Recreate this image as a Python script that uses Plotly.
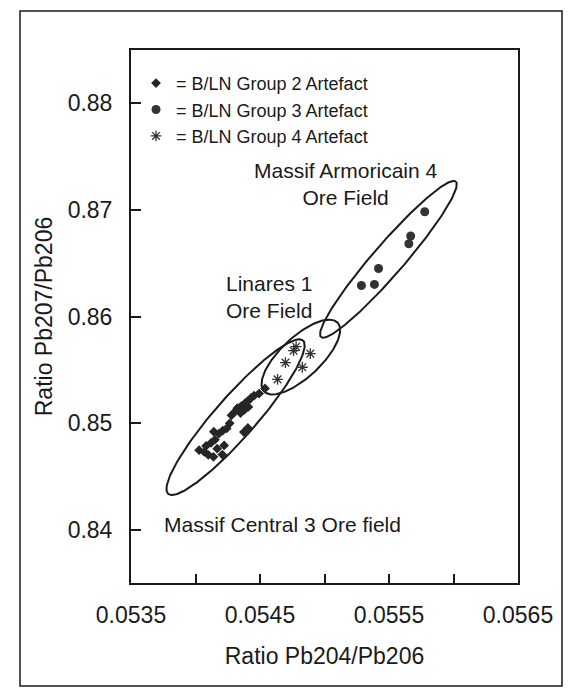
import numpy as np
import plotly.graph_objects as go

# ---------------- data ----------------
x_range = [0.0535, 0.0565]
y_range = [0.835, 0.885]
x_label_vals = [0.0535, 0.0545, 0.0555, 0.0565]
x_label_text = ["0.0535", "0.0545", "0.0555", "0.0565"]
x_minor_vals = [0.0540, 0.0550, 0.0560]
y_tick_vals = [0.84, 0.85, 0.86, 0.87, 0.88]
y_tick_text = ["0.84", "0.85", "0.86", "0.87", "0.88"]

# B/LN Group 2 artefacts (diamonds)
g2_x = [0.054028, 0.054068, 0.054099, 0.054139, 0.054082, 0.054121, 0.054151,
        0.054168, 0.054208, 0.054222, 0.054181, 0.054212, 0.054242, 0.054265,
        0.054279, 0.054302, 0.054324, 0.054355, 0.054386, 0.054409, 0.054431,
        0.054454, 0.054379, 0.054410, 0.054349, 0.054375, 0.054406, 0.054539,
        0.054493, 0.054142]
g2_y = [0.84746, 0.84729, 0.84702, 0.84684, 0.84786, 0.84815, 0.84844,
        0.84760, 0.84705, 0.84790, 0.84901, 0.84930, 0.84950, 0.84998,
        0.85073, 0.85102, 0.85140, 0.85160, 0.85189, 0.85209, 0.85237,
        0.85257, 0.85123, 0.85152, 0.85094, 0.84916, 0.84955, 0.85325,
        0.85277, 0.84919]

# B/LN Group 3 artefacts (circles)
g3_x = [0.055777, 0.055668, 0.055654, 0.055419, 0.055286, 0.055387]
g3_y = [0.86983, 0.86755, 0.86682, 0.86450, 0.86291, 0.86301]

# B/LN Group 4 artefacts (asterisks)
g4_x = [0.054760, 0.054890, 0.054697, 0.054828, 0.054636, 0.054780]
g4_y = [0.85679, 0.85652, 0.85567, 0.85524, 0.85410, 0.85717]

legend_names = ["= B/LN Group 2 Artefact", "= B/LN Group 3 Artefact",
                "= B/LN Group 4 Artefact"]

# ore-field ellipses: two tips of the long axis and minor/major ratio
field_names = ["Massif Central 3", "Linares 1", "Massif Armoricain 4"]
field_tip1_x = [0.053788, 0.054531, 0.054973]
field_tip1_y = [0.84336, 0.85297, 0.85807]
field_tip2_x = [0.054833, 0.055102, 0.056018]
field_tip2_y = [0.85775, 0.85942, 0.87266]
field_ratio = [0.20, 0.40, 0.15]

field_labels = ["Massif Central 3 Ore field", "Linares 1<br>Ore Field",
                "Massif Armoricain 4<br>Ore Field"]
field_label_x = [0.054672, 0.054569, 0.055167]
field_label_y = [0.84050, 0.86186, 0.87242]

# ---------------- layout geometry ----------------
W, H = 574, 692
ML, MR, MT, MB = 131, 56, 50, 109
PW, PH = W - ML - MR, H - MT - MB
FONT = "Arial, Liberation Sans, sans-serif"
INK = "#1a1a1a"

fig = go.Figure()

# ellipses, computed in screen-isotropic space
sx = PW / (x_range[1] - x_range[0])
sy = PH / (y_range[1] - y_range[0])
t = np.linspace(0, 2 * np.pi, 241)
for i in range(len(field_names)):
    ax, ay = field_tip1_x[i] * sx, field_tip1_y[i] * sy
    bx, by = field_tip2_x[i] * sx, field_tip2_y[i] * sy
    cx, cy = (ax + bx) / 2, (ay + by) / 2
    mx, my = (bx - ax) / 2, (by - ay) / 2
    nx, ny = -my * field_ratio[i], mx * field_ratio[i]
    ex = (cx + mx * np.cos(t) + nx * np.sin(t)) / sx
    ey = (cy + my * np.cos(t) + ny * np.sin(t)) / sy
    fig.add_trace(go.Scatter(x=ex, y=ey, mode="lines", name=field_names[i],
                             line=dict(color=INK, width=2), showlegend=False,
                             hoverinfo="skip"))

fig.add_trace(go.Scatter(x=g2_x, y=g2_y, mode="markers", name=legend_names[0],
                         marker=dict(symbol="diamond", size=7.5, color="#262626",
                                     line=dict(width=0))))
fig.add_trace(go.Scatter(x=g3_x, y=g3_y, mode="markers", name=legend_names[1],
                         marker=dict(symbol="circle", size=9, color="#333333",
                                     line=dict(width=0))))
fig.add_trace(go.Scatter(x=g4_x, y=g4_y, mode="markers", name=legend_names[2],
                         marker=dict(symbol="asterisk-open", size=9,
                                     color="#333333",
                                     line=dict(width=1.3, color="#333333"))))

for i in range(len(field_labels)):
    fig.add_annotation(x=field_label_x[i], y=field_label_y[i], xref="x", yref="y",
                       text=field_labels[i], showarrow=False,
                       font=dict(family=FONT, size=21, color=INK),
                       align="center", xanchor="center", yanchor="middle")

# outer page frame
fig.add_shape(type="rect", xref="paper", yref="paper",
              x0=(20 - ML) / PW, x1=(562 - ML) / PW,
              y0=1 - (686 - MT) / PH, y1=1 - (11 - MT) / PH,
              line=dict(color=INK, width=1.5), layer="below")

fig.update_layout(
    width=W, height=H,
    margin=dict(l=ML, r=MR, t=MT, b=MB, pad=0),
    paper_bgcolor="white", plot_bgcolor="white",
    font=dict(family=FONT, size=23, color=INK),
    showlegend=True,
    legend=dict(x=0.013, y=0.972, xanchor="left", yanchor="top",
                bgcolor="rgba(0,0,0,0)", borderwidth=0,
                font=dict(family=FONT, size=18, color=INK),
                itemwidth=30, tracegroupgap=0),
    xaxis=dict(range=x_range, showgrid=False, zeroline=False,
               showline=True, mirror=True, linecolor=INK, linewidth=2,
               tickmode="array", tickvals=x_label_vals, ticktext=x_label_text,
               ticks="inside", ticklen=9, tickwidth=1.5, tickcolor=INK,
               ticklabelstandoff=10,
               minor=dict(tickmode="array", tickvals=x_minor_vals,
                          ticks="inside", ticklen=9, tickwidth=1.5,
                          tickcolor=INK, showgrid=False),
               tickfont=dict(family=FONT, size=23, color=INK),
               title=dict(text="Ratio Pb204/Pb206", standoff=21,
                          font=dict(family=FONT, size=23, color=INK))),
    yaxis=dict(range=y_range, showgrid=False, zeroline=False,
               showline=True, mirror=True, linecolor=INK, linewidth=2,
               tickmode="array", tickvals=y_tick_vals, ticktext=y_tick_text,
               ticks="inside", ticklen=10, tickwidth=1.5, tickcolor=INK,
               ticklabelstandoff=12,
               tickfont=dict(family=FONT, size=23, color=INK),
               title=dict(text="Ratio Pb207/Pb206", standoff=9,
                          font=dict(family=FONT, size=23, color=INK))),
)

fig.write_html("out.html")
